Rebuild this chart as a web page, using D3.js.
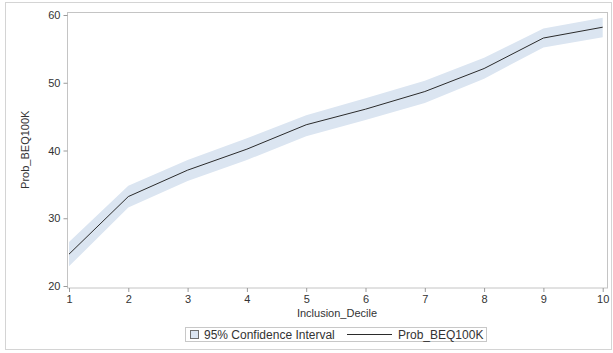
<!DOCTYPE html>
<html>
<head>
<meta charset="utf-8">
<script src="https://cdn.jsdelivr.net/npm/d3@7"></script>
<style>
  html, body { margin: 0; padding: 0; background: #fff; }
  svg { display: block; font-family: "Liberation Sans", Arial, sans-serif; }
</style>
</head>
<body>
<svg id="chart" width="613" height="353"></svg>
<script>
// Predicted probability by inclusion decile, with 95% confidence limits
const deciles = [1, 2, 3, 4, 5, 6, 7, 8, 9, 10];
const prob    = [24.7, 33.2, 37.1, 40.2, 43.8, 46.1, 48.7, 52.1, 56.6, 58.2];
const upper   = [26.5, 34.8, 38.6, 41.8, 45.2, 47.7, 50.3, 53.7, 58.0, 59.6];
const lower   = [22.9, 31.6, 35.5, 38.6, 42.1, 44.5, 47.0, 50.6, 55.2, 56.7];
const yTicks  = [20, 30, 40, 50, 60];

const svg = d3.select("#chart");

// outer frame
svg.append("rect")
  .attr("x", 5.5).attr("y", 2.5).attr("width", 606).attr("height", 347)
  .attr("fill", "none").attr("stroke", "#d4d4d4");

const plot = { left: 67, right: 607, top: 12, bottom: 287.5 };

const x = d3.scaleLinear().domain([1, 10]).range([69, 602.7]);
const y = d3.scaleLinear().domain([20, 60]).range([286, 15]);

const rows = deciles.map((d, i) => ({ d, p: prob[i], lo: lower[i], hi: upper[i] }));

// confidence band
svg.append("path")
  .datum(rows)
  .attr("fill", "#dbe5f1")
  .attr("d", d3.area().x(r => x(r.d)).y0(r => y(r.lo)).y1(r => y(r.hi)));

// prediction line
svg.append("path")
  .datum(rows)
  .attr("fill", "none")
  .attr("stroke", "#2b2b2b")
  .attr("stroke-width", 1)
  .attr("d", d3.line().x(r => x(r.d)).y(r => y(r.p)));

// plot area frame
svg.append("rect")
  .attr("x", plot.left + 0.5).attr("y", plot.top + 0.5)
  .attr("width", plot.right - plot.left).attr("height", plot.bottom - plot.top)
  .attr("fill", "none").attr("stroke", "#c4c4c4");

// axes
const xAxis = d3.axisBottom(x).tickValues(deciles).tickSize(4).tickPadding(3);
const gx = svg.append("g").attr("transform", `translate(0,${plot.bottom + 0.5})`).call(xAxis);
const yAxis = d3.axisLeft(y).tickValues(yTicks).tickSize(4).tickPadding(3);
const gy = svg.append("g").attr("transform", `translate(${plot.left + 0.5},0)`).call(yAxis);

[gx, gy].forEach(g => {
  g.select(".domain").remove();
  g.selectAll(".tick line").attr("stroke", "#9a9a9a");
  g.selectAll(".tick text")
    .attr("fill", "#333")
    .style("font-size", "11px")
    .style("font-family", "Liberation Sans, Arial, sans-serif");
});

// axis titles
svg.append("text")
  .attr("x", (plot.left + plot.right) / 2).attr("y", 317)
  .attr("text-anchor", "middle")
  .attr("fill", "#333")
  .style("font-size", "11px")
  .text("Inclusion_Decile");

svg.append("text")
  .attr("transform", `translate(29,${(plot.top + plot.bottom) / 2}) rotate(-90)`)
  .attr("text-anchor", "middle")
  .attr("fill", "#333")
  .style("font-size", "11px")
  .text("Prob_BEQ100K");

// legend
const lg = svg.append("g");
lg.append("rect")
  .attr("x", 185.5).attr("y", 327.5).attr("width", 301).attr("height", 14)
  .attr("fill", "#fff").attr("stroke", "#c8c8c8");
lg.append("rect")
  .attr("x", 190.5).attr("y", 330.5).attr("width", 8).attr("height", 8)
  .attr("fill", "#dbe5f1").attr("stroke", "#6f6f6f");
lg.append("text")
  .attr("x", 204).attr("y", 338.5)
  .attr("fill", "#333").style("font-size", "12px")
  .text("95% Confidence Interval");
lg.append("line")
  .attr("x1", 347).attr("x2", 392).attr("y1", 334.5).attr("y2", 334.5)
  .attr("stroke", "#2b2b2b");
lg.append("text")
  .attr("x", 398).attr("y", 338.5)
  .attr("fill", "#333").style("font-size", "12px")
  .text("Prob_BEQ100K");
</script>
</body>
</html>
